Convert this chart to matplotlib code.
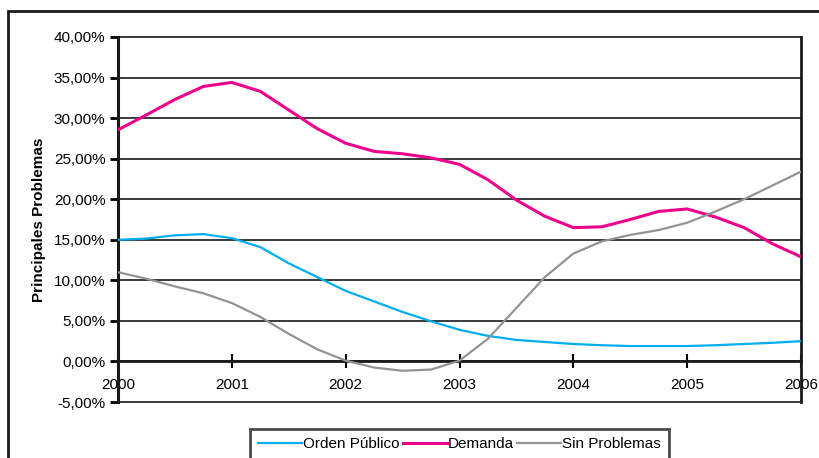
import matplotlib.pyplot as plt
from matplotlib.patches import Rectangle
from matplotlib.ticker import FuncFormatter

plt.rcParams['font.family'] = ['Liberation Sans', 'DejaVu Sans']

# quarterly points, 2000 - 2006
fechas = [2000 + i * 0.25 for i in range(25)]

orden_publico = [15.0, 15.15, 15.55, 15.7, 15.2, 14.1, 12.1, 10.4, 8.7,
                 7.4, 6.1, 4.95, 3.9, 3.15, 2.65, 2.4, 2.15, 2.0, 1.9,
                 1.9, 1.9, 2.0, 2.15, 2.3, 2.5]
demanda = [28.55, 30.4, 32.3, 33.9, 34.4, 33.3, 31.0, 28.7, 26.9,
           25.9, 25.6, 25.1, 24.3, 22.4, 19.9, 17.9, 16.5, 16.6, 17.5,
           18.5, 18.8, 17.8, 16.5, 14.5, 12.9]
sin_problemas = [11.0, 10.2, 9.25, 8.4, 7.2, 5.5, 3.4, 1.5, 0.1,
                 -0.75, -1.15, -1.0, 0.1, 2.8, 6.6, 10.4, 13.3, 14.8, 15.6,
                 16.2, 17.1, 18.5, 20.0, 21.7, 23.4]

anios = [2000, 2001, 2002, 2003, 2004, 2005, 2006]
niveles = [-5, 0, 5, 10, 15, 20, 25, 30, 35, 40]

fig = plt.figure(figsize=(8.2, 4.58), dpi=100)
ax = fig.add_axes([118 / 820, 1 - 402 / 458, 683 / 820, 365 / 458])

# rejilla horizontal
for n in niveles:
    ax.axhline(n, color='#2a2a2a', lw=1.3, zorder=1, clip_on=False)

ax.plot(fechas, orden_publico, color='#00aeef', lw=1.6, label='Orden Público', zorder=3,
        solid_joinstyle='round')
ax.plot(fechas, demanda, color='#ec008c', lw=2.2, label='Demanda', zorder=3,
        solid_joinstyle='round')
ax.plot(fechas, sin_problemas, color='#939393', lw=1.6, label='Sin Problemas', zorder=3,
        solid_joinstyle='round')

ax.set_xlim(2000, 2006)
ax.set_ylim(-5, 40)
ax.set_yticks(niveles)
ax.yaxis.set_major_formatter(FuncFormatter(lambda v, p: f'{v:.2f}%'.replace('.', ',')))
ax.set_xticks(anios)
ax.set_xticklabels([str(a) for a in anios])

ax.spines['bottom'].set_position(('data', 0))
ax.spines['bottom'].set_linewidth(2)
ax.spines['left'].set_linewidth(2.2)
ax.spines['right'].set_linewidth(2)
ax.spines['top'].set_visible(False)
for s in ax.spines.values():
    s.set_color('#1a1a1a')

ax.tick_params(axis='y', direction='out', length=6, width=2, labelsize=11, pad=3)
ax.tick_params(axis='x', direction='inout', length=10, width=1.5, labelsize=11, pad=7)

ax.set_ylabel('Principales Problemas', fontsize=11, fontweight='bold', labelpad=6)

leg = ax.legend(loc='upper center', bbox_to_anchor=(0.5, -0.065), ncol=3, frameon=True,
                fancybox=False, fontsize=11, handlelength=2.9, handletextpad=0.05,
                columnspacing=0.2, borderpad=0.55, borderaxespad=0.2)
leg.get_frame().set_edgecolor('#1a1a1a')
leg.get_frame().set_linewidth(2)

# marco exterior del gráfico
fig.patches.append(Rectangle((8 / 820, -0.2), 1.5, 1.2 - 11 / 458, transform=fig.transFigure,
                             fill=False, edgecolor='#1a1a1a', lw=2))

fig.savefig('out.png', dpi=100)
